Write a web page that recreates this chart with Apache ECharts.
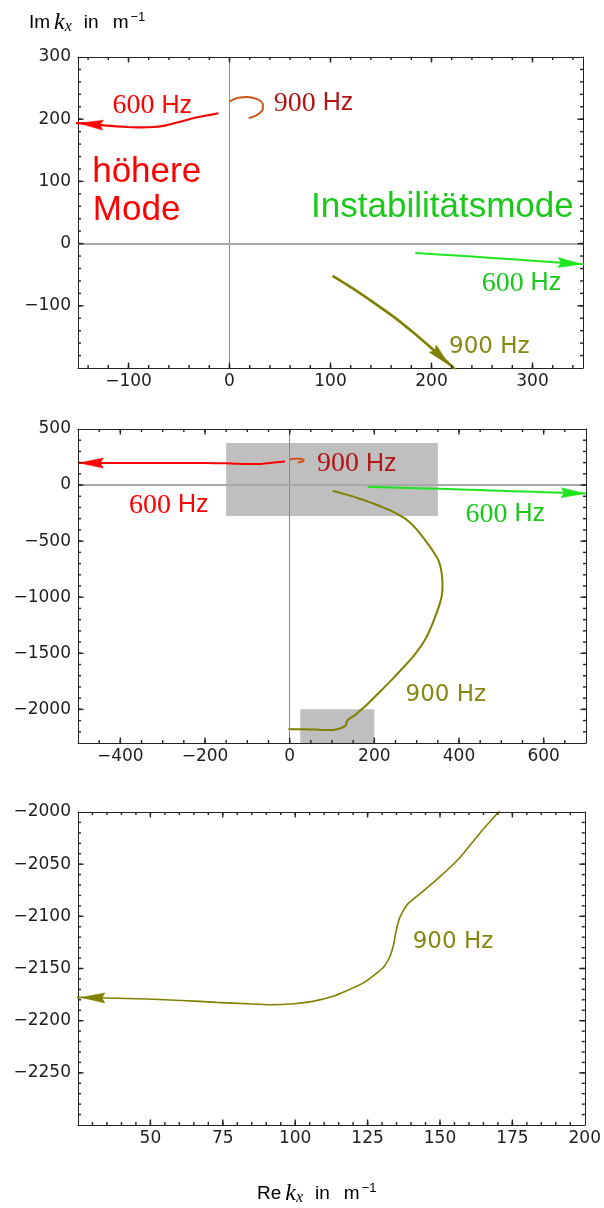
<!DOCTYPE html>
<html><head><meta charset="utf-8">
<script src="https://cdn.jsdelivr.net/npm/echarts@6/dist/echarts.min.js"></script>
<style>html,body{margin:0;padding:0;background:#fff}#c{width:604px;height:1208px}</style>
</head><body><div id="c"></div>
<script>
// ---------------- data ----------------
const redMode600 = [[-11,209.5],[-24,205.5],[-36,201.5],[-50,195.5],[-63,190],[-75,187.5],[-88,186.8],[-101,187.5],[-112,188.5],[-124,190],[-136,191.8],[-150,193.8],[-200,196],[-250,197],[-300,196.5],[-350,196],[-400,196],[-450,197],[-500,198]];
const orangeLoop900 = [[0,228],[4,232],[10,235],[17,235.5],[24,234],[30,230],[33,224],[33,217],[30,210],[25,205],[19,202]];
const greenInst600 = [[184,-15],[220,-18.8],[260,-23],[300,-27.5],[350,-33],[400,-39],[450,-45],[500,-51],[550,-57],[600,-63],[650,-69],[700,-75]];
const oliveInst900 = [[102,-52],[122,-72],[142,-94],[162,-117],[182,-143],[202,-171],[218,-194],[235,-222],[256,-262],[277,-311],[300,-395],[323,-506],[338,-585],[351,-667],[358,-760],[361,-875],[359,-994],[347,-1142],[324,-1350],[292,-1528],[245,-1721],[206,-1870],[186,-1945],[170.2,-2000],[164.6,-2017.5],[156.6,-2044.6],[150,-2062],[144,-2076.4],[138.6,-2089],[136,-2102],[134.7,-2116],[134,-2127],[132.7,-2138.5],[130.7,-2148],[127.4,-2156],[123.4,-2164],[118,-2171],[112.8,-2176.8],[106.1,-2181.5],[99.5,-2183.8],[91.5,-2184.7],[83.5,-2183.8],[72.9,-2182.5],[60.9,-2180.6],[48.9,-2179.3],[34.3,-2178.3],[25.7,-2177.7],[10,-2177],[-3,-2175]];

// arrow heads: [from, tip]
const redArrowTop = [[-133,191.5],[-149,193.6]];
const greenArrowTop = [[320,-30],[349,-33]];
const oliveArrowTop = [[205,-175],[218,-196]];
const redArrowMid = [[-440,196.5],[-497,197.5]];
const greenArrowMid = [[640,-68],[698,-75]];
const oliveArrowBot = [[36,-2178.3],[26,-2177.7]];

// zoom boxes shown in the middle panel
const zoomBoxes = [[[-150,375],[350,-275]],[[25,-2000],[200,-2300]]];

// axis ranges and tick labels
const topXRange = [-150,350], topYRange = [-200,300];
const midXRange = [-500,700], midYRange = [-2300,500];
const botXRange = [25,200],   botYRange = [-2300,-2000];
const topXTicks = [-100,0,100,200,300];
const topYTicks = [-100,0,100,200,300];
const midXTicks = [-400,-200,0,200,400,600];
const midYTicks = [-2000,-1500,-1000,-500,0,500];
const botXTicks = [50,75,100,125,150,175,200];
const botYTicks = [-2250,-2200,-2150,-2100,-2050,-2000];

// annotation texts
const annTop = [
  {at:[-76.5,221.8], text:'{n|600}{u| Hz}', kind:'serif', color:'#ff0000'},
  {at:[83.2,225.5],  text:'{n|900}{u| Hz}', kind:'serif', color:'#b31414'},
  {at:[-82,114],     text:'höhere', kind:'big', color:'#ff0000'},
  {at:[-92,53],      text:'Mode', kind:'big', color:'#ff0000'},
  {at:[210.8,57.8],  text:'Instabilitätsmode', kind:'big', color:'#19c819'},
  {at:[289,-63.9],   text:'{n|600}{u| Hz}', kind:'serif', color:'#19c819'},
  {at:[257.3,-166.5],text:'900 Hz', kind:'sans', color:'#868612'}
];
const annMid = [
  {at:[158.3,189.8], text:'{n|900}{u| Hz}', kind:'serif', color:'#b31414'},
  {at:[-285.5,-181.7],text:'{n|600}{u| Hz}', kind:'serif', color:'#ff0000'},
  {at:[509.2,-261.8],text:'{n|600}{u| Hz}', kind:'serif', color:'#19c819'},
  {at:[369,-1869.7], text:'900 Hz', kind:'sans', color:'#868612'}
];
const annBot = [
  {at:[154.5,-2124.5], text:'900 Hz', kind:'sans', color:'#868612'}
];

// ---------------- chart ----------------
const RED='#ff0000', ORANGE='#c8561e', GREEN='#1ee61e', OLIVE='#808000';
const FRAME='#222222';

function fmt(v){ return v < 0 ? '\u2212' + Math.abs(v) : String(v); }
function stepList(range, step){
  const a=[]; const s=Math.ceil(range[0]/step-1e-9)*step;
  for(let v=s; v<=range[1]+1e-9; v+=step){ const r=+v.toFixed(6); if(r>range[0] && r<range[1]) a.push(r); }
  return a;
}

const panels = [
  {grid:{left:78, top:57, width:505, height:311}, xr:topXRange, yr:topYRange, xt:topXTicks, yt:topYTicks, xs:20, ys:20},
  {grid:{left:78, top:429, width:508, height:314}, xr:midXRange, yr:midYRange, xt:midXTicks, yt:midYTicks, xs:50, ys:100},
  {grid:{left:78, top:812, width:507, height:313}, xr:botXRange, yr:botYRange, xt:botXTicks, yt:botYTicks, xs:5, ys:10}
];

function axis(dim, g, range, pos, tickVals, labeled){
  return {
    type:'value', gridIndex:g, min:range[0], max:range[1], position:pos,
    axisLine:{show:true, onZero:false, lineStyle:{color:FRAME, width:1}},
    axisTick:{show:false},
    axisLabel:{show:labeled, customValues:tickVals, margin: dim==='x'?5:7,
      fontFamily:'DejaVu Sans', fontSize:17, color:'#1e1e1e', formatter:v=>fmt(v)},
    splitLine:{show:false}, minorTick:{show:false}, axisPointer:{show:false}
  };
}

const grids=[], xAxes=[], yAxes=[];
panels.forEach((p,g)=>{
  grids.push(p.grid);
  xAxes.push(axis('x',g,p.xr,'bottom',p.xt,true));
  xAxes.push(axis('x',g,p.xr,'top',p.xt,false));
  yAxes.push(axis('y',g,p.yr,'left',p.yt,true));
  yAxes.push(axis('y',g,p.yr,'right',p.yt,false));
});

function curve(g, data, color, width){
  return {type:'line', xAxisIndex:2*g, yAxisIndex:2*g, data:data, showSymbol:false, symbol:'none',
    smooth:0.2, clip:true, silent:true, z:3, lineStyle:{color:color, width:width}};
}
function arrows(g, list, color){
  return {type:'custom', xAxisIndex:2*g, yAxisIndex:2*g, silent:true, z:4,
    data:list.map(a=>[a[0][0],a[0][1],a[1][0],a[1][1]]),
    encode:{x:[0,2], y:[1,3]},
    renderItem:function(params, api){
      const a = api.coord([api.value(0), api.value(1)]);
      const b = api.coord([api.value(2), api.value(3)]);
      let dx=b[0]-a[0], dy=b[1]-a[1]; const L=Math.hypot(dx,dy)||1; dx/=L; dy/=L;
      const len=24, w=5, notch=3, nx=-dy, ny=dx;
      const bx=b[0]-dx*len, by=b[1]-dy*len;
      return {type:'polygon', shape:{points:[[b[0],b[1]],[bx+nx*w,by+ny*w],[b[0]-dx*(len-notch),b[1]-dy*(len-notch)],[bx-nx*w,by-ny*w]]},
        style:{fill:color, stroke:color, lineWidth:0.5}};
    }};
}
// frame tick marks (inward), each placed through the axes' scales
function frameTicks(g, p){
  const midX=(p.xr[0]+p.xr[1])/2, midY=(p.yr[0]+p.yr[1])/2;
  const meta=[];
  p.xt.filter(v=>v>p.xr[0]&&v<p.xr[1]).forEach(v=>meta.push({pt:[v,midY], len:5.5, vert:true}));
  stepList(p.xr,p.xs).forEach(v=>meta.push({pt:[v,midY], len:3, vert:true}));
  p.yt.filter(v=>v>p.yr[0]&&v<p.yr[1]).forEach(v=>meta.push({pt:[midX,v], len:5.5, vert:false}));
  stepList(p.yr,p.ys).forEach(v=>meta.push({pt:[midX,v], len:3, vert:false}));
  return {type:'custom', xAxisIndex:2*g, yAxisIndex:2*g, silent:true, z:6, clip:false,
    data:meta.map(m=>m.pt),
    renderItem:function(params, api){
      const m=meta[params.dataIndex];
      const c0=api.coord([p.xr[0],p.yr[0]]), c1=api.coord([p.xr[1],p.yr[1]]);
      const left=c0[0], bottom=c0[1], right=c1[0], top=c1[1];
      const pt=api.coord([api.value(0), api.value(1)]);
      const len=m.len, st={stroke:FRAME, lineWidth:1.4, fill:null};
      if(m.vert){
        const x=pt[0];
        return {type:'group', children:[
          {type:'polyline', shape:{points:[[x,bottom],[x,bottom-len]]}, style:st},
          {type:'polyline', shape:{points:[[x,top],[x,top+len]]}, style:Object.assign({},st)}]};
      } else {
        const y=pt[1];
        return {type:'group', children:[
          {type:'polyline', shape:{points:[[left,y],[left+len,y]]}, style:st},
          {type:'polyline', shape:{points:[[right,y],[right-len,y]]}, style:Object.assign({},st)}]};
      }
    }};
}
function zeroLines(g){
  return {type:'line', xAxisIndex:2*g, yAxisIndex:2*g, data:[], silent:true, z:2,
    markLine:{silent:true, symbol:'none', label:{show:false}, emphasis:{disabled:true},
      data:[{xAxis:0, lineStyle:{color:'#8a8a8a', width:1, type:'solid'}},
            {yAxis:0, lineStyle:{color:'#a8a8a8', width:2, type:'solid'}}]}};
}
function labels(g, list){
  return {type:'custom', xAxisIndex:2*g, yAxisIndex:2*g, silent:true, z:7, clip:false,
    data:list.map(a=>a.at),
    renderItem:function(params, api){
      const a=list[params.dataIndex];
      const p=api.coord([api.value(0), api.value(1)]);
      const style={text:a.text, fill:a.color, align:'center', verticalAlign:'middle'};
      if(a.kind==='serif'){
        style.fontFamily='Liberation Serif'; style.fontSize=28;
        style.rich={n:{fontFamily:'Liberation Serif', fontSize:28, fill:a.color},
                    u:{fontFamily:'Liberation Sans', fontSize:25, fill:a.color}};
      } else if(a.kind==='big'){ style.fontFamily='Liberation Sans'; style.fontSize=35; }
      else { style.fontFamily='DejaVu Sans'; style.fontSize=23; }
      return {type:'text', x:p[0], y:p[1], style:style};
    }};
}

const series = [];
// top panel
series.push(zeroLines(0));
series.push(curve(0, redMode600, RED, 2.2));
series.push(curve(0, orangeLoop900, ORANGE, 2));
series.push(curve(0, greenInst600, GREEN, 2));
series.push(curve(0, oliveInst900, OLIVE, 2.6));
series.push(arrows(0, [redArrowTop], RED));
series.push(arrows(0, [greenArrowTop], GREEN));
series.push(arrows(0, [oliveArrowTop], OLIVE));
series.push(frameTicks(0, panels[0]));
series.push(labels(0, annTop));
// middle panel
series.push({type:'line', xAxisIndex:2, yAxisIndex:2, data:[], silent:true, z:1,
  markArea:{silent:true, label:{show:false}, emphasis:{disabled:true},
    itemStyle:{color:'#bfbfbf', opacity:1, borderWidth:0},
    data: zoomBoxes.map(b=>[{coord:b[0]},{coord:b[1]}])}});
series.push(zeroLines(1));
series.push(curve(1, redMode600, RED, 2));
series.push(curve(1, orangeLoop900, ORANGE, 2));
series.push(curve(1, greenInst600, GREEN, 2));
series.push(curve(1, oliveInst900, OLIVE, 2));
series.push(arrows(1, [redArrowMid], RED));
series.push(arrows(1, [greenArrowMid], GREEN));
series.push(frameTicks(1, panels[1]));
series.push(labels(1, annMid));
// bottom panel
series.push(curve(2, oliveInst900, OLIVE, 1.6));
series.push(arrows(2, [oliveArrowBot], OLIVE));
series.push(frameTicks(2, panels[2]));
series.push(labels(2, annBot));

const titleRich = {
  r:{fontFamily:'Liberation Sans', fontSize:19, color:'#000', lineHeight:24},
  k:{fontFamily:'Liberation Serif', fontStyle:'italic', fontSize:24, color:'#000', lineHeight:24, padding:[0,0,0,4]},
  s:{fontFamily:'Liberation Serif', fontStyle:'italic', fontSize:16, color:'#000', lineHeight:16, verticalAlign:'bottom'},
  i:{fontFamily:'Liberation Sans', fontSize:19, color:'#000', lineHeight:24, padding:[0,0,0,12]},
  m:{fontFamily:'Liberation Sans', fontSize:19, color:'#000', lineHeight:24, padding:[0,0,0,14]},
  p:{fontFamily:'Liberation Sans', fontSize:13, color:'#000', lineHeight:10, verticalAlign:'top', padding:[0,0,0,2]}
};

const chart = echarts.init(document.getElementById('c'), null, {width:604, height:1208});
chart.setOption({
  backgroundColor:'#ffffff',
  animation:false,
  grid:grids, xAxis:xAxes, yAxis:yAxes, series:series,
  graphic:[
    {type:'text', left:29, top:11, silent:true, style:{text:'{r|Im}{k|k}{s|x}{i|in}{m|m}{p|\u22121}', rich:titleRich}},
    {type:'text', left:257, top:1182, silent:true, style:{text:'{r|Re}{k|k}{s|x}{i|in}{m|m}{p|\u22121}', rich:titleRich}}
  ]
});
</script></body></html>
